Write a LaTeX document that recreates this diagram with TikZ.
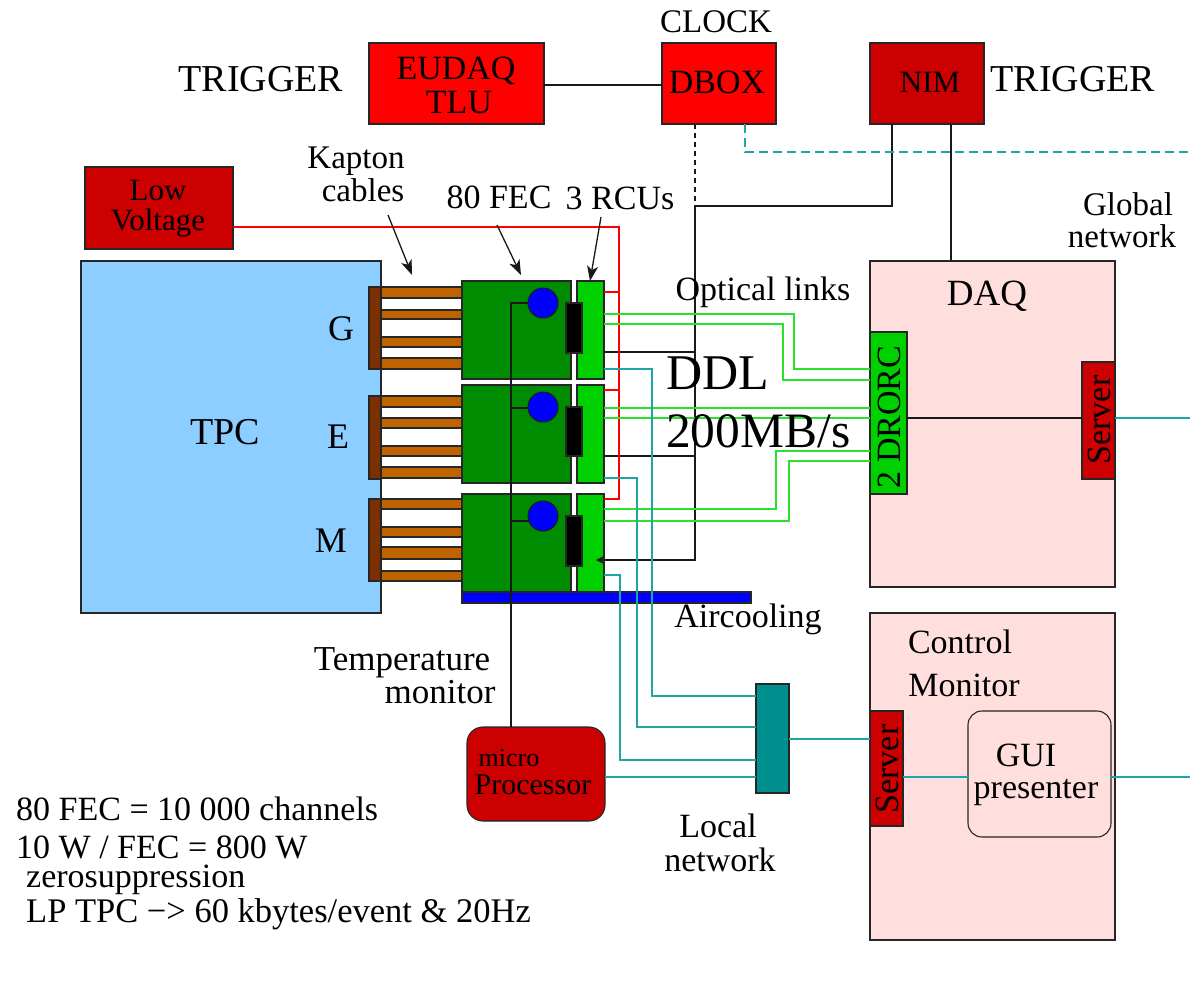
\documentclass[tikz,border=0pt]{standalone}
\usepackage{fontspec}
\setmainfont{Liberation Serif}
\usetikzlibrary{arrows.meta,calc}
\definecolor{tpcblue}{RGB}{140,206,255}
\definecolor{trigred}{RGB}{255,0,0}
\definecolor{darkred}{RGB}{204,0,0}
\definecolor{fecgreen}{RGB}{0,140,0}
\definecolor{rcugreen}{RGB}{0,208,0}
\definecolor{kapton}{RGB}{191,98,0}
\definecolor{kaptondark}{RGB}{122,48,0}
\definecolor{pinkbox}{RGB}{255,222,222}
\definecolor{tealbox}{RGB}{0,143,143}
\definecolor{tealline}{RGB}{30,165,165}
\definecolor{optline}{RGB}{40,225,40}
\newcommand\bx[6][]{%
  \pgfmathsetmacro\bw{#5-#3}\pgfmathsetmacro\bh{#6-#4}%
  \pgfmathsetmacro\cx{(#5+#3)/2}\pgfmathsetmacro\cy{(#6+#4)/2}%
  \node[boxbase,minimum width=\bw pt,minimum height=\bh pt,#1] (#2) at (\cx,\cy) {};}
\tikzset{
  boxbase/.style={draw=black!85,line width=1.1pt,inner sep=0pt,outer sep=0pt,rectangle},
  txt/.style={font=\fontsize{34}{34}\selectfont,inner sep=0pt,text=black},
  txtl/.style={txt,anchor=west},
  sized/.style={font=\fontsize{#1}{#1}\selectfont},
  big/.style={font=\fontsize{50}{50}\selectfont,inner sep=0pt,anchor=west},
  blk/.style={draw=black!90,line width=1.1pt},
  redl/.style={draw=red,line width=1.2pt},
  grn/.style={draw=optline,line width=1.4pt},
  teal/.style={draw=tealline,line width=1.3pt},
  ptr/.style={draw=black!90,line width=1.3pt,-{Stealth[length=15pt,width=11pt,inset=4pt]}},
  bulb/.style={draw=black!90,fill=blue,line width=1pt,circle,minimum size=30pt,inner sep=0pt},
}
\begin{document}
\begin{tikzpicture}[x=1pt,y=-1pt]
\useasboundingbox (0,0) rectangle (1190,999);
% main boxes
\bx[fill=tpcblue]{tpc}{81}{261}{381}{613}
\bx[fill=pinkbox]{daq}{870}{261}{1115}{587}
\bx[fill=pinkbox]{ctrl}{870}{613}{1115}{940}
\bx[fill=trigred]{tlu}{369}{43}{544}{124}
\bx[fill=trigred]{dbox}{662}{43}{776}{124}
\bx[fill=darkred]{nim}{870}{43}{984}{124}
\bx[fill=darkred]{lv}{85}{167}{233}{249}
% kapton
\bx[fill=kaptondark]{brG}{369}{287}{381}{369}
\bx[fill=kaptondark]{brE}{369}{396}{381}{479}
\bx[fill=kaptondark]{brM}{369}{499}{381}{581}
\bx[fill=kapton]{sa}{381}{287}{462}{298}
\bx[fill=kapton]{sb}{381}{310}{462}{319}
\bx[fill=kapton]{sc}{381}{337}{462}{347}
\bx[fill=kapton]{sd}{381}{358}{462}{369}
\bx[fill=kapton]{se}{381}{396}{462}{407}
\bx[fill=kapton]{sf}{381}{418}{462}{428}
\bx[fill=kapton]{sg}{381}{446}{462}{456}
\bx[fill=kapton]{sh}{381}{467}{462}{478}
\bx[fill=kapton]{si}{381}{499}{462}{509}
\bx[fill=kapton]{sj}{381}{527}{462}{537}
\bx[fill=kapton]{sk}{381}{547}{462}{559}
\bx[fill=kapton]{sl}{381}{571}{462}{581}
% FEC
\bx[fill=fecgreen]{fecG}{462}{281}{571}{379}
\bx[fill=fecgreen]{fecE}{462}{385}{571}{483}
\bx[fill=fecgreen]{fecM}{462}{494}{571}{592}
\bx[fill=rcugreen]{rcuG}{577}{281}{604}{379}
\bx[fill=rcugreen]{rcuE}{577}{385}{604}{483}
\bx[fill=rcugreen]{rcuM}{577}{494}{604}{592}
\bx[fill=black]{chG}{566}{303}{582}{353}
\bx[fill=black]{chE}{566}{407}{582}{456}
\bx[fill=black]{chM}{566}{516}{582}{566}
\bx[fill=blue]{air}{462}{592}{751}{603}
% other boxes
\bx[fill=rcugreen]{drorc}{870}{332}{907}{494}
\bx[fill=darkred]{srvD}{1082}{362}{1115}{479}
\bx[fill=darkred]{srvC}{870}{711}{903}{826}
\bx[fill=tealbox]{sw}{756}{684}{789}{793}
\bx[fill=pinkbox,rounded corners=14pt]{gui}{968}{711}{1111}{837}
\bx[fill=darkred,rounded corners=16pt]{micro}{467}{727}{605}{821}
\coordinate (eastedge) at (1190,0);
\coordinate (teal1) at (745,152);
\coordinate (nimcorner) at (892,206);
\coordinate (junction) at (695,206);
% temperature
\draw[blk] (micro.north -| 511,0) -- (511,303) -- (528,303);
\draw[blk] (511,408) -- (528,408);
\draw[blk] (511,521) -- (530,521);
\node[bulb] (cG) at (543,303) {};
\node[bulb] (cE) at (543,407) {};
\node[bulb] (cM) at (543,516) {};
% top connections
\draw[blk] (tlu.east |- 0,85) -- (dbox.west |- 0,85);
\draw[blk,dash pattern=on 5pt off 4pt] (dbox.south -| junction) -- (junction);
\draw[blk] (nim.south -| nimcorner) -- (nimcorner) -- (junction) -- (695,560) -- (rcuM.east |- 0,560);
\draw[blk,-{Stealth[length=8pt,width=8pt]}] (604,560) -- (596,560);
\draw[blk] (rcuG.east |- 0,352) -- (695,352);
\draw[blk] (rcuE.east |- 0,456) -- (695,456);
\draw[blk] (nim.south -| 951,0) -- (daq.north -| 951,0);
\draw[blk] (drorc.east |- 0,418) -- (srvD.west |- 0,418);
% dashed teal
\draw[teal,dash pattern=on 9pt off 5pt] (dbox.south -| teal1) -- (teal1) -- (eastedge |- teal1);
% red
\draw[redl] (lv.east |- 0,227) -- (619,227) -- (619,499) -- (rcuM.east |- 0,499);
\draw[redl] (rcuG.east |- 0,292) -- (619,292);
\draw[redl] (rcuE.east |- 0,390) -- (619,390);
% optical
\draw[grn] (rcuG.east |- 0,314) -- (794,314) -- (794,369) -- (drorc.west |- 0,369);
\draw[grn] (rcuG.east |- 0,324) -- (783,324) -- (783,380) -- (drorc.west |- 0,380);
\draw[grn] (rcuE.east |- 0,408) -- (drorc.west |- 0,408);
\draw[grn] (rcuE.east |- 0,418) -- (drorc.west |- 0,418);
\draw[grn] (rcuM.east |- 0,509) -- (776,509) -- (776,451) -- (drorc.west |- 0,451);
\draw[grn] (rcuM.east |- 0,521) -- (789,521) -- (789,461) -- (drorc.west |- 0,461);
% teal
\draw[teal] (rcuG.east |- 0,369) -- (652,369) -- (652,696) -- (sw.west |- 0,696);
\draw[teal] (rcuE.east |- 0,478) -- (637,478) -- (637,727) -- (sw.west |- 0,727);
\draw[teal] (rcuM.east |- 0,575) -- (620,575) -- (620,760) -- (sw.west |- 0,760);
\draw[teal] (micro.east |- 0,777) -- (sw.west |- 0,777);
\draw[teal] (sw.east |- 0,739) -- (srvC.west |- 0,739);
\draw[teal] (srvC.east |- 0,777) -- (gui.west |- 0,777);
\draw[teal] (gui.east |- 0,777) -- (eastedge |- 0,777);
\draw[teal] (srvD.east |- 0,418) -- (eastedge |- 0,418);
% pointers
\coordinate (pk) at (388,215); \coordinate (pf) at (497,225); \coordinate (pr) at (601,217);
\draw[ptr] (pk) -- (412,275);
\draw[ptr] (pf) -- (521,275);
\draw[ptr] (pr) -- (590,281);
% labels
\node[txt,sized=38] (l1) at (261,79) {TRIGGER};
\node[txt,sized=38] (l2) at (1073,79) {TRIGGER};
\node[txt,sized=33] (l3) at (716,22) {CLOCK};
\node[txt] (l4) at (456,71) {EUDAQ};
\node[txt] (l5) at (459,103) {TLU};
\node[txt] (l6) at (717,82) {DBOX};
\node[txt,sized=31] (l7) at (930,82) {NIM};
\node[txt,sized=31] (l8) at (158,190) {Low};
\node[txt,sized=31] (l9) at (158,223) {Voltage};
\node[txt,sized=33] (l10) at (356,161) {Kapton};
\node[txt,sized=33] (l11) at (363,190) {cables};
\node[txt] (l12) at (499,197) {80 FEC};
\node[txt] (l13) at (620,198) {3 RCUs};
\node[txt,sized=33] (l14) at (1128,204) {Global};
\node[txt,sized=33] (l15) at (1122,236) {network};
\node[txt] (l16) at (763,292) {Optical links};
\node[txt,sized=37] (l17) at (987,296) {DAQ};
\node[big] (l18) at (666,373) {DDL};
\node[big,sized=49.5] (l19) at (666,431) {200MB/s};
\node[txt,sized=36] (l20) at (341,329) {G};
\node[txt,sized=36] (l21) at (338,437) {E};
\node[txt,sized=36] (l22) at (331,541) {M};
\node[txt,sized=38] (l23) at (225,432) {TPC};
\node[txt] (l24) at (748,619) {Aircooling};
\node[txt,sized=35] (l25) at (402,663) {Temperature};
\node[txt,sized=35] (l26) at (440,692) {monitor};
\node[txt,sized=26] (l27) at (509,758) {micro};
\node[txt,sized=30] (l28) at (533,785) {Processor};
\node[txt] (l29) at (960,642) {Control};
\node[txt] (l30) at (964,685) {Monitor};
\node[txt] (l31) at (1026,755) {GUI};
\node[txt] (l32) at (1036,793) {presenter};
\node[txt] (l33) at (718,826) {Local};
\node[txt] (l34) at (720,860) {network};
\node[txt,rotate=90] (l35) at (889,417) {2 DRORC};
\node[txt,rotate=90] (l36) at (1099,420) {Server};
\node[txt,rotate=90] (l37) at (887,769) {Server};
\node[txtl] (l38) at (16,809) {80 FEC = 10 000 channels};
\node[txtl] (l39) at (16,847) {10 W / FEC = 800 W};
\node[txtl] (l40) at (26,880) {zerosuppression};
\node[txtl,sized=34.5] (l41) at (26,914) {LP TPC −> 60 kbytes/event \& 20Hz};
\end{tikzpicture}
\end{document}
